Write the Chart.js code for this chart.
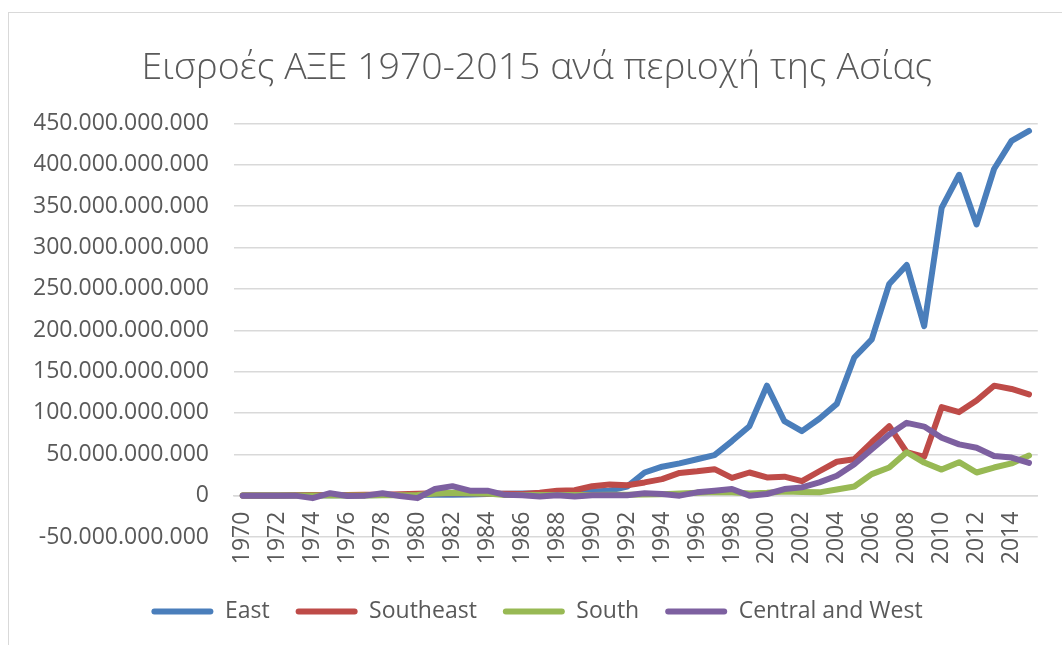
<!DOCTYPE html>
<html>
<head>
<meta charset="utf-8">
<script src="https://cdn.jsdelivr.net/npm/chart.js@4"></script>
<style>
  html, body { margin: 0; padding: 0; background: #fff; overflow: hidden; }
  body { width: 1062px; height: 645px; position: relative; }
  #frame { position: absolute; left: 8px; top: 12px; width: 1100px; height: 700px; border: 1.5px solid #d9d9d9; }
  #wrap { position: absolute; left: 9px; top: 13px; width: 1064px; height: 632px; }
</style>
</head>
<body>
<div id="frame"></div>
<div id="wrap"><canvas id="chart"></canvas></div>
<script>
const years = ['1970', '1971', '1972', '1973', '1974', '1975', '1976', '1977', '1978', '1979',
  '1980', '1981', '1982', '1983', '1984', '1985', '1986', '1987', '1988', '1989',
  '1990', '1991', '1992', '1993', '1994', '1995', '1996', '1997', '1998', '1999',
  '2000', '2001', '2002', '2003', '2004', '2005', '2006', '2007', '2008', '2009',
  '2010', '2011', '2012', '2013', '2014', '2015'];

// values in billions of US$, multiplied out below
const east = [0.2, 0.2, 0.3, 0.5, 0.6, 0.5, 0.4, 0.5, 0.8, 0.9,
  0.9, 1.0, 1.2, 1.5, 2.0, 2.2, 2.5, 3.0, 4.0, 4.5,
  5, 6, 11, 28, 35, 39, 44, 49, 66, 84,
  133, 90, 78, 93, 111, 167, 189, 256, 279, 205,
  348, 388, 328, 395, 429, 441];
const southeast = [0.1, 0.2, 0.3, 0.5, 0.8, 0.7, 0.9, 1.0, 1.2, 1.6,
  2.2, 2.8, 3.0, 3.0, 2.5, 2.2, 2.0, 3.5, 6, 6.5,
  11.5, 13.5, 12.5, 16, 20, 27.5, 29.5, 32, 21.5, 28,
  22, 23, 17.5, 29.5, 41, 44, 64.5, 84, 52.5, 47,
  107, 101, 115, 133, 129, 122.5];
const south = [0.1, 0.1, 0.1, 0.2, 0.3, 0.3, 0.2, 0.3, 0.5, 0.6,
  0.8, 2.5, 3.5, 3.0, 2.5, 0.8, 0.7, 0.8, 0.9, 0.8,
  0.8, 1.0, 1.2, 1.5, 1.8, 2.5, 3.5, 4.5, 4, 2.5,
  3.5, 5, 4.5, 4, 7.5, 11, 26, 34, 52.5, 40,
  31.5, 40.5, 28, 34, 39, 48.5];
const centralWest = [0, 0, 0, 0, -3, 3, -0.5, 0, 3, -0.5,
  -3, 8, 11.5, 6, 6, 1, 0.5, -1, 0.5, -1,
  0.5, 0.5, 0.5, 3, 2, 0, 4, 6, 8, 0,
  2, 8, 10, 16, 24, 38, 56, 74, 88, 83.5,
  70, 62, 58, 48, 46, 39.5];

const seriesNames = ['East', 'Southeast', 'South', 'Central and West'];
const COLORS = ['#4a7ebb', '#be4b48', '#98b954', '#7d60a0'];
const yTicks = [-50e9, 0, 50e9, 100e9, 150e9, 200e9, 250e9, 300e9, 350e9, 400e9, 450e9];

const TEXT = '#595959';
const GRID = '#d9d9d9';
const FONT = "'Open Sans', 'Liberation Sans', sans-serif";

function fmt(v) {
  return String(Math.round(v)).replace(/\B(?=(\d{3})+(?!\d))/g, '.');
}

const allSeries = [east, southeast, south, centralWest];

new Chart(document.getElementById('chart'), {
  type: 'line',
  data: {
    labels: years,
    datasets: allSeries.map((s, i) => ({
      label: seriesNames[i],
      data: s.map(v => v * 1e9),
      borderColor: COLORS[i],
      backgroundColor: COLORS[i],
      borderWidth: 6,
      borderCapStyle: 'round',
      borderJoinStyle: 'round',
      pointRadius: 0,
      tension: 0,
      fill: false,
      order: 3 - i,
    }))
  },
  options: {
    responsive: true,
    maintainAspectRatio: false,
    animation: false,
    layout: { padding: { left: 25, right: 33, top: 0, bottom: 12 } },
    plugins: {
      title: {
        display: true,
        text: 'Εισροές ΑΞΕ 1970-2015 ανά περιοχή της Ασίας',
        color: TEXT,
        font: { family: FONT, size: 37.5, weight: '300' },
        padding: { top: 32.5, bottom: 33 },
      },
      legend: {
        position: 'bottom',
        labels: {
          color: TEXT,
          font: { family: FONT, size: 23 },
          boxWidth: 62,
          boxHeight: 6,
          padding: 26,
          useBorderRadius: true,
          borderRadius: 3,
          sort: (a, b) => a.datasetIndex - b.datasetIndex,
          generateLabels: chart => Chart.defaults.plugins.legend.labels.generateLabels(chart)
            .map(l => ({ ...l, fillStyle: COLORS[l.datasetIndex], strokeStyle: COLORS[l.datasetIndex], lineWidth: 0 })),
        }
      },
      tooltip: { enabled: false },
    },
    scales: {
      x: {
        type: 'category',
        position: { y: 0 },
        offset: true,
        grid: { display: false, drawTicks: false },
        border: { display: true, color: GRID, width: 1.5 },
        ticks: {
          color: TEXT,
          font: { family: FONT, size: 23 },
          minRotation: 90,
          maxRotation: 90,
          autoSkip: false,
          padding: 16,
          callback: function (val, idx) { return idx % 2 === 0 ? this.getLabelForValue(val) : ''; },
        }
      },
      y: {
        min: -50e9,
        max: 450e9,
        afterBuildTicks: s => { s.ticks = yTicks.map(v => ({ value: v })); },
        afterFit: s => { s.width = 200; },
        grid: { color: GRID, lineWidth: 1.5, drawTicks: false },
        border: { display: false },
        ticks: {
          color: TEXT,
          font: { family: FONT, size: 23 },
          padding: 25,
          callback: v => fmt(v),
        }
      },
      spacer: {
        type: 'category',
        position: 'bottom',
        display: true,
        grid: { display: false, drawTicks: false },
        border: { display: false },
        ticks: { display: false },
        afterFit: s => { s.height = 37; },
      }
    }
  }
});
</script>
</body>
</html>
